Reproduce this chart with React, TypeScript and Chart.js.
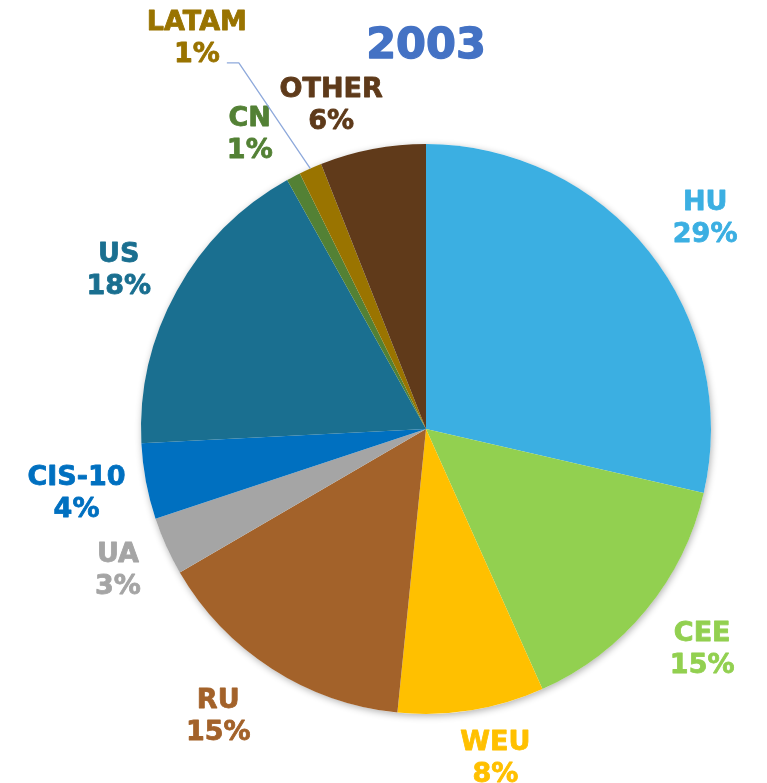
import React, { useEffect, useRef } from "react";
import { Chart, registerables } from "chart.js";

Chart.register(...registerables);

const TITLE = "2003";
const categories = ["HU", "CEE", "WEU", "RU", "UA", "CIS-10", "US", "CN", "LATAM", "OTHER"];
const shares = [28.6, 14.7, 8.3, 15.0, 3.3, 4.3, 17.7, 0.8, 1.3, 6.0];
const sliceColors = [
  "#3BAFE2", "#92D050", "#FFC000", "#A3622A", "#A5A5A5",
  "#0070C0", "#1A6F90", "#538135", "#9A7400", "#603A1A",
];
const labelColors = [
  "#3BAFE2", "#92D050", "#FFC000", "#A3622A", "#A5A5A5",
  "#0070C0", "#1A6F90", "#538135", "#997300", "#5E3A1A",
];
// label placement: [angle nudge in degrees, distance from centre in px]
const labelPlacement: [number, number][] = [
  [1.2, 351], [-1.1, 352], [-2.8, 334], [3.3, 353], [0, 338],
  [0.5, 355], [-1.3, 347], [-3, 345], [-6.3, 455], [-5.4, 340],
];
const LEADER_INDEX = 8;

const FONT = '"DejaVu Sans", Verdana, sans-serif';

const overlayPlugin = {
  id: "overlay",
  beforeDatasetsDraw(chart: any) {
    const arc = chart.getDatasetMeta(0).data[0];
    if (!arc) return;
    const ctx = chart.ctx;
    ctx.save();
    ctx.shadowColor = "rgba(0,0,0,0.30)";
    ctx.shadowBlur = 7;
    ctx.shadowOffsetX = 1;
    ctx.shadowOffsetY = 2;
    ctx.fillStyle = "#ffffff";
    ctx.beginPath();
    ctx.arc(arc.x, arc.y, arc.outerRadius, 0, Math.PI * 2);
    ctx.fill();
    ctx.restore();
  },
  afterDatasetsDraw(chart: any) {
    const ctx = chart.ctx;
    const meta = chart.getDatasetMeta(0);
    const first = meta.data[0];
    const cx = first.x;
    const cy = first.y;
    const R = first.outerRadius;
    ctx.save();
    ctx.lineJoin = "round";
    // title
    ctx.fillStyle = "#4472C4";
    ctx.strokeStyle = "#4472C4";
    ctx.lineWidth = 1.4;
    ctx.font = `bold 43px ${FONT}`;
    ctx.textAlign = "center";
    ctx.textBaseline = "alphabetic";
    ctx.fillText(TITLE, cx, 58);
    ctx.strokeText(TITLE, cx, 58);

    ctx.font = `bold 27px ${FONT}`;
    meta.data.forEach((el: any, i: number) => {
      const mid = (el.startAngle + el.endAngle) / 2;
      const [dDeg, dist] = labelPlacement[i];
      const a = mid + (dDeg * Math.PI) / 180;
      const lx = cx + dist * Math.cos(a);
      const ly = cy + dist * Math.sin(a);
      if (i === LEADER_INDEX) {
        const ex = cx + R * Math.cos(mid);
        const ey = cy + R * Math.sin(mid);
        ctx.strokeStyle = "#8EA9DB";
        ctx.lineWidth = 1.3;
        ctx.beginPath();
        ctx.moveTo(ex, ey);
        ctx.lineTo(lx + 42, ly + 27);
        ctx.lineTo(lx + 30, ly + 27);
        ctx.stroke();
      }
      ctx.fillStyle = labelColors[i];
      ctx.strokeStyle = labelColors[i];
      ctx.lineWidth = 0.8;
      const pct = `${Math.round(shares[i])}%`;
      ctx.fillText(categories[i], lx, ly - 6);
      ctx.strokeText(categories[i], lx, ly - 6);
      ctx.fillText(pct, lx, ly + 26);
      ctx.strokeText(pct, lx, ly + 26);
    });
    ctx.restore();
  },
};

export default function App() {
  const ref = useRef<HTMLCanvasElement>(null);
  useEffect(() => {
    if (!ref.current) return;
    const chart = new Chart(ref.current, {
      type: "pie",
      data: {
        labels: categories,
        datasets: [
          {
            data: shares,
            backgroundColor: sliceColors,
            borderWidth: 0,
            hoverOffset: 0,
            offset: 0,
          } as any,
        ],
      },
      options: {
        animation: false,
        responsive: false,
        devicePixelRatio: 1,
        layout: { padding: { left: 141, right: 56, top: 144, bottom: 69 } },
        plugins: {
          legend: { display: false },
          title: { display: false },
          tooltip: { enabled: false },
        },
      },
      plugins: [overlayPlugin],
    });
    return () => chart.destroy();
  }, []);
  return (
    <div style={{ position: "absolute", left: 0, top: 0, width: 767, height: 783, background: "#fff" }}>
      <canvas ref={ref} width={767} height={783} style={{ display: "block", width: 767, height: 783 }} />
    </div>
  );
}
